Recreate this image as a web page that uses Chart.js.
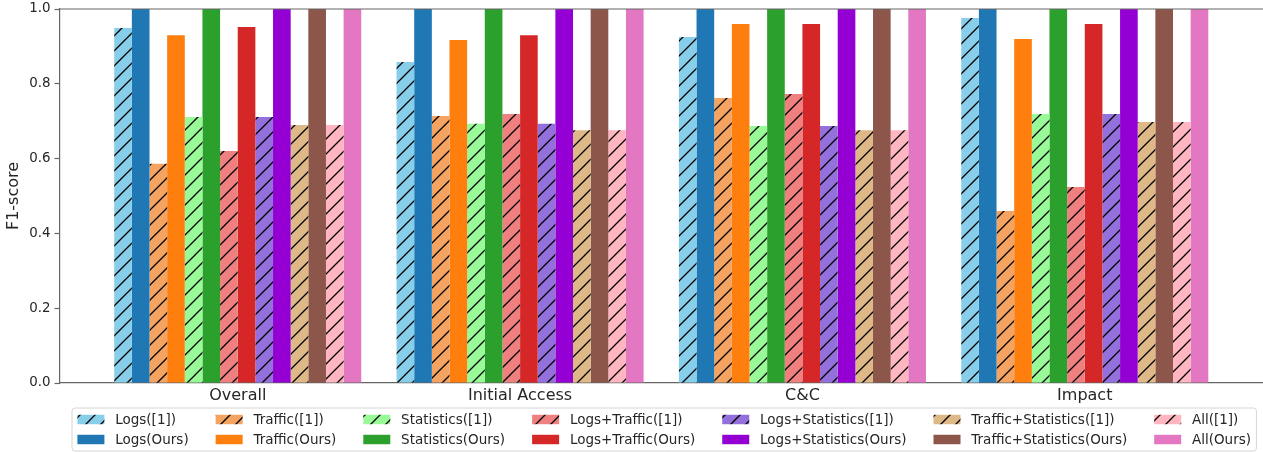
<!DOCTYPE html>
<html>
<head>
<meta charset="utf-8">
<script src="https://cdn.jsdelivr.net/npm/chart.js@4/dist/chart.umd.min.js"></script>
<style>
  html, body { margin: 0; padding: 0; background: #fff; overflow: hidden; }
  #c { display: block; }
</style>
</head>
<body>
<canvas id="c" width="1263" height="452"></canvas>
<script>
// Attack stages on the x axis
const categories = ['Overall', 'Initial Access', 'C&C', 'Impact'];

// F1-scores per feature set: baseline [1] vs. ours
const logsBaseline          = [0.949, 0.858, 0.925, 0.976];
const logsOurs              = [1.000, 1.000, 1.000, 1.000];
const trafficBaseline       = [0.586, 0.714, 0.762, 0.460];
const trafficOurs           = [0.930, 0.917, 0.960, 0.920];
const statsBaseline         = [0.711, 0.693, 0.687, 0.719];
const statsOurs             = [1.000, 1.000, 1.000, 1.000];
const logsTrafficBaseline   = [0.620, 0.719, 0.773, 0.524];
const logsTrafficOurs       = [0.952, 0.930, 0.960, 0.960];
const logsStatsBaseline     = [0.711, 0.693, 0.687, 0.719];
const logsStatsOurs         = [1.000, 1.000, 1.000, 1.000];
const trafficStatsBaseline  = [0.690, 0.676, 0.676, 0.698];
const trafficStatsOurs      = [1.000, 1.000, 1.000, 1.000];
const allBaseline           = [0.690, 0.676, 0.676, 0.698];
const allOurs               = [1.000, 1.000, 1.000, 1.000];

const yTicks = [0.0, 0.2, 0.4, 0.6, 0.8, 1.0];

const FONT = '"DejaVu Sans", sans-serif';
const TEXT = '#262626';
const SPINE = '#666666';

// Diagonal "/" hatch on top of a base colour
function hatch(color) {
  const s = 15;
  const c = document.createElement('canvas');
  c.width = s; c.height = s;
  const g = c.getContext('2d');
  g.fillStyle = color;
  g.fillRect(0, 0, s, s);
  g.strokeStyle = '#000';
  g.lineWidth = 1.3;
  g.beginPath();
  g.moveTo(-2, s + 2); g.lineTo(s + 2, -2);
  g.moveTo(-2, 2);     g.lineTo(2, -2);
  g.moveTo(s - 2, s + 2); g.lineTo(s + 2, s - 2);
  g.stroke();
  return g.createPattern(c, 'repeat');
}

const series = [
  { label: 'Logs([1])',                   values: logsBaseline,         color: '#87CEEB', hatched: true },
  { label: 'Logs(Ours)',                  values: logsOurs,             color: '#1f77b4', hatched: false },
  { label: 'Traffic([1])',                values: trafficBaseline,      color: '#F4A460', hatched: true },
  { label: 'Traffic(Ours)',               values: trafficOurs,          color: '#ff7f0e', hatched: false },
  { label: 'Statistics([1])',             values: statsBaseline,        color: '#98FB98', hatched: true },
  { label: 'Statistics(Ours)',            values: statsOurs,            color: '#2ca02c', hatched: false },
  { label: 'Logs+Traffic([1])',           values: logsTrafficBaseline,  color: '#F08080', hatched: true },
  { label: 'Logs+Traffic(Ours)',          values: logsTrafficOurs,      color: '#d62728', hatched: false },
  { label: 'Logs+Statistics([1])',        values: logsStatsBaseline,    color: '#9370DB', hatched: true },
  { label: 'Logs+Statistics(Ours)',       values: logsStatsOurs,        color: '#9400D3', hatched: false },
  { label: 'Traffic+Statistics([1])',     values: trafficStatsBaseline, color: '#DEB887', hatched: true },
  { label: 'Traffic+Statistics(Ours)',    values: trafficStatsOurs,     color: '#8c564b', hatched: false },
  { label: 'All([1])',                    values: allBaseline,          color: '#FFB6C1', hatched: true },
  { label: 'All(Ours)',                   values: allOurs,              color: '#e377c2', hatched: false },
];

const datasets = series.map(s => ({
  label: s.label,
  data: s.values.map((v, i) => ({ x: i, y: v })),
  backgroundColor: s.hatched ? hatch(s.color) : s.color,
  borderWidth: 0,
  categoryPercentage: 0.875,
  barPercentage: 1.0,
}));

// Top spine of the axes box
const topSpine = {
  id: 'topSpine',
  afterDatasetsDraw(chart) {
    const { ctx, chartArea } = chart;
    ctx.save();
    ctx.strokeStyle = SPINE;
    ctx.lineWidth = 1.2;
    ctx.beginPath();
    ctx.moveTo(chartArea.left, chartArea.top);
    ctx.lineTo(chartArea.right, chartArea.top);
    ctx.stroke();
    ctx.restore();
  }
};

// Two-row legend, one column per feature set ([1] on top, Ours below)
const columnLegend = {
  id: 'columnLegend',
  afterDraw(chart) {
    const ctx = chart.ctx;
    const fs = 13.5;
    const ds = chart.data.datasets;
    const nCols = Math.ceil(ds.length / 2);
    ctx.save();
    ctx.font = `${fs}px ${FONT}`;
    const colText = [];
    for (let c = 0; c < nCols; c++) {
      const a = ctx.measureText(ds[2 * c].label).width;
      const b = ds[2 * c + 1] ? ctx.measureText(ds[2 * c + 1].label).width : 0;
      colText.push(Math.max(a, b));
    }
    const pad = 0.4 * fs, handleLen = 2 * fs, textPad = 0.8 * fs, colSp = 2 * fs;
    const boxX = 72, boxY = 408, boxH = 43;
    const rowY = [419.5, 439.5];
    let boxW = 2 * pad + colSp * (nCols - 1);
    colText.forEach(w => boxW += handleLen + textPad + w);

    // frame
    const r = 3;
    ctx.beginPath();
    ctx.moveTo(boxX + r, boxY);
    ctx.lineTo(boxX + boxW - r, boxY);
    ctx.arcTo(boxX + boxW, boxY, boxX + boxW, boxY + r, r);
    ctx.lineTo(boxX + boxW, boxY + boxH - r);
    ctx.arcTo(boxX + boxW, boxY + boxH, boxX + boxW - r, boxY + boxH, r);
    ctx.lineTo(boxX + r, boxY + boxH);
    ctx.arcTo(boxX, boxY + boxH, boxX, boxY + boxH - r, r);
    ctx.lineTo(boxX, boxY + r);
    ctx.arcTo(boxX, boxY, boxX + r, boxY, r);
    ctx.closePath();
    ctx.fillStyle = 'rgba(255,255,255,0.8)';
    ctx.fill();
    ctx.strokeStyle = '#d6d6d6';
    ctx.lineWidth = 1;
    ctx.stroke();

    let x = boxX + pad;
    ctx.textBaseline = 'middle';
    ctx.textAlign = 'left';
    for (let c = 0; c < nCols; c++) {
      for (let rI = 0; rI < 2; rI++) {
        const d = ds[2 * c + rI];
        if (!d) continue;
        const y = rowY[rI];
        const hh = 0.7 * fs;
        ctx.fillStyle = d.backgroundColor;
        ctx.fillRect(x, y - hh / 2, handleLen, hh);
        ctx.fillStyle = TEXT;
        ctx.fillText(d.label, x + handleLen + textPad, y + 0.5);
      }
      x += handleLen + textPad + colText[c] + colSp;
    }
    ctx.restore();
  }
};

new Chart(document.getElementById('c'), {
  type: 'bar',
  data: { datasets },
  plugins: [topSpine, columnLegend],
  options: {
    responsive: false,
    animation: false,
    devicePixelRatio: 1,
    layout: { padding: { top: 9, right: 0, bottom: 0, left: 0 } },
    plugins: {
      legend: { display: false },
      tooltip: { enabled: false },
    },
    scales: {
      x: {
        type: 'linear',
        min: -0.63125,
        max: 3.63125,
        offset: false,
        afterBuildTicks: s => { s.ticks = categories.map((_, i) => ({ value: i })); },
        afterFit: s => { s.height = 69; s.paddingLeft = 0; s.paddingRight = 0; },
        ticks: {
          callback: v => categories[v],
          autoSkip: false,
          maxRotation: 0,
          font: { family: FONT, size: 16 },
          color: TEXT,
          padding: 3,
        },
        grid: {
          offset: false,
          drawOnChartArea: false,
          drawTicks: false,
          tickLength: 0,
        },
        border: { display: true, color: SPINE, width: 1.2 },
      },
      y: {
        min: 0,
        max: 1,
        afterBuildTicks: s => { s.ticks = yTicks.map(v => ({ value: v })); },
        afterFit: s => { s.width = 59.5; s.paddingTop = 0; s.paddingBottom = 0; },
        ticks: {
          callback: v => v.toFixed(1),
          font: { family: FONT, size: 13.4 },
          color: TEXT,
          padding: 4,
        },
        grid: {
          drawOnChartArea: false,
          drawTicks: true,
          tickLength: 5,
          tickColor: SPINE,
          tickWidth: 1.2,
        },
        border: { display: true, color: SPINE, width: 1.2 },
        title: {
          display: true,
          text: 'F1-score',
          font: { family: FONT, size: 16 },
          color: TEXT,
          padding: { top: 4, bottom: 0 },
        },
      },
    },
  },
});
</script>
</body>
</html>
